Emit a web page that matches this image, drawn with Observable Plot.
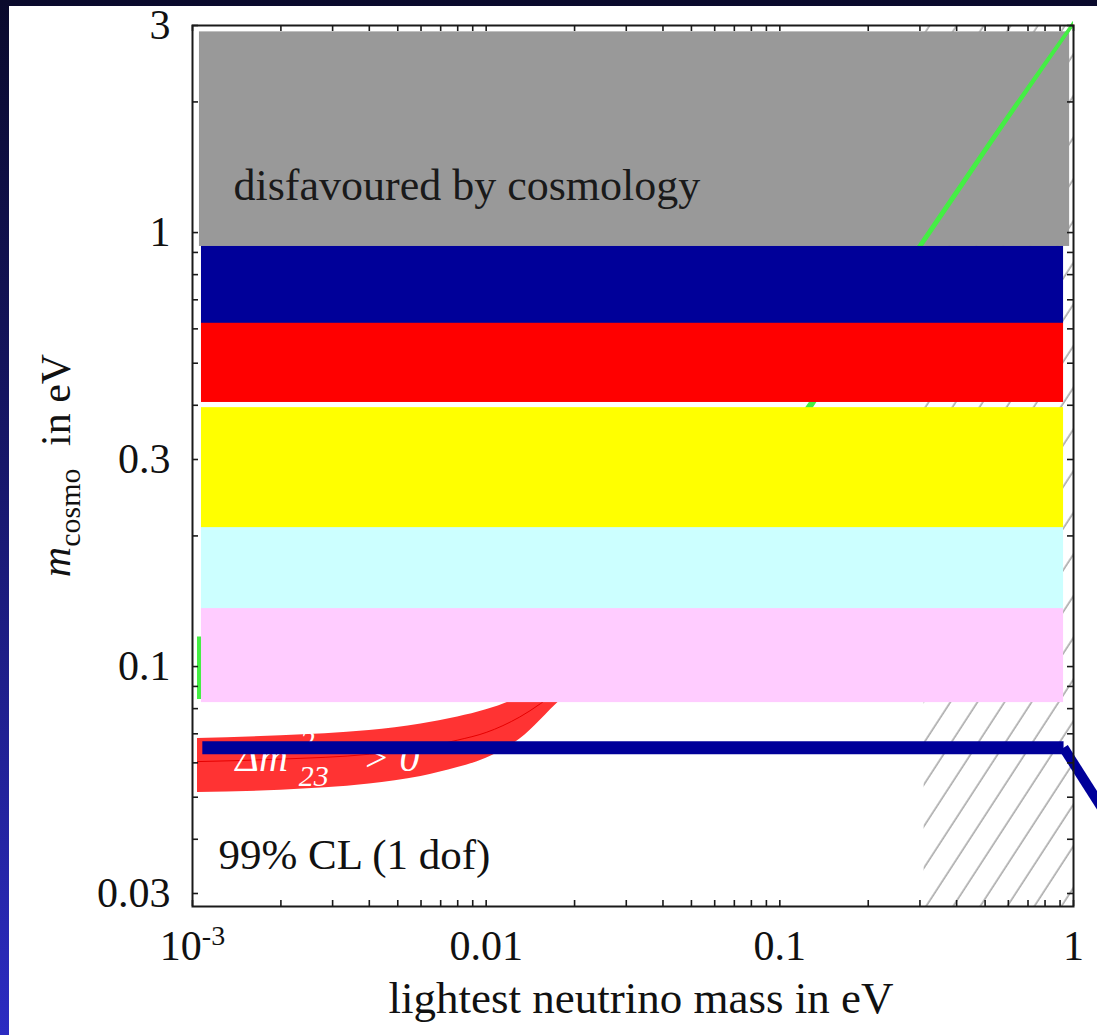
<!DOCTYPE html>
<html>
<head>
<meta charset="utf-8">
<script src="https://cdn.jsdelivr.net/npm/d3@7"></script>
<script src="https://cdn.jsdelivr.net/npm/@observablehq/plot@0.6"></script>
<style>
html, body { margin: 0; padding: 0; }
body {
  width: 1097px; height: 1035px; overflow: hidden; position: relative;
  background: linear-gradient(to bottom, #0a0a2c 0%, #17176a 45%, #2c2cc2 100%);
}
#panel { position: absolute; left: 9px; top: 6px; width: 1088px; height: 1029px; background: #ffffff; overflow: hidden; }
</style>
</head>
<body>
<div id="panel"></div>
<script>
// ---------------- data ----------------
const xDomain = [0.001, 1];
const yDomain = [0.028, 3];

const xMajorTicks = [0.001, 0.01, 0.1, 1];
const xMajorLabels = ["10-3", "0.01", "0.1", "1"];
const xMinorTicks = [0.002, 0.003, 0.004, 0.005, 0.006, 0.007, 0.008, 0.009,
                     0.02, 0.03, 0.04, 0.05, 0.06, 0.07, 0.08, 0.09,
                     0.2, 0.3, 0.4, 0.5, 0.6, 0.7, 0.8, 0.9];
const yMajorTicks = [0.03, 0.1, 0.3, 1, 3];
const yMajorLabels = ["0.03", "0.1", "0.3", "1", "3"];
const yMinorTicks = [0.04, 0.05, 0.06, 0.07, 0.08, 0.09,
                     0.2, 0.4, 0.5, 0.6, 0.7, 0.8, 0.9, 2];

// region disfavoured by cosmology (grey box)
const cosmoX = [0.001056, 0.97];
const cosmoY = [0.929, 2.90];

// hatched region (lightest mass range)
const hatchX = [0.31, 1];
const hatchY = [0.028, 3];

// horizontal coloured bands (top to bottom)
const bandNames = ["band 1", "band 2", "band 3", "band 4", "band 5"];
const bandStart = [0.001073, 0.001073, 0.001073, 0.001073, 0.001073];
const bandEnd   = [0.925, 0.925, 0.925, 0.925, 0.925];
const bandLow   = [0.616, 0.406, 0.207, 0.134, 0.0826];
const bandHigh  = [0.929, 0.618, 0.395, 0.209, 0.136];

// normal hierarchy band (Δm²23 > 0)
const nhMass    = [0.00104, 0.002, 0.004, 0.006, 0.008, 0.01, 0.013, 0.018, 0.03, 0.06, 0.1, 0.128, 0.2, 0.3, 0.6, 1.0];
const nhLow     = [0.0513, 0.0519, 0.0536, 0.0558, 0.0585, 0.0615, 0.068, 0.084, 0.112, 0.186, 0.303, 0.394, 0.613, 0.915, 1.825, 2.99];
const nhHigh    = [0.0683, 0.0693, 0.0712, 0.0737, 0.0765, 0.0795, 0.085, 0.096, 0.125, 0.199, 0.318, 0.406, 0.625, 0.932, 1.855, 3.04];
const nhCentral = [0.0604, 0.0612, 0.0628, 0.065, 0.0677, 0.0705, 0.0765, 0.089, 0.118, 0.193, 0.31, 0.4, 0.619, 0.923, 1.84, 3.01];

// inverted hierarchy band
const ihMass = [0.00104, 0.01, 0.03, 0.06, 0.1, 0.128, 0.2, 0.3, 0.6, 1.0];
const ihLow  = [0.084, 0.086, 0.108, 0.178, 0.297, 0.388, 0.604, 0.903, 1.80, 2.97];
const ihHigh = [0.117, 0.119, 0.138, 0.207, 0.325, 0.412, 0.633, 0.946, 1.88, 3.07];

// thick dark-blue line
const limitMass = [0.00108, 0.925, 1.5];
const limitSum  = [0.065, 0.065, 0.0389];

// texts
const cosmoText = "disfavoured by cosmology";
const cosmoTextPos = [0.001379, 1.187];
const clText = "99% CL (1 dof)";
const clTextPos = [0.001226, 0.0341];
const nhTextParts = ["Δm", "2", "23", "> 0"];
const nhTextX = [0.0014, 0.00232, 0.0023, 0.00379];
const nhTextY = [0.0576, 0.064, 0.0532, 0.0576];
const xLabel = "lightest neutrino mass in eV";

// ---------------- styles ----------------
const bandColors = ["#000099", "#ff0000", "#ffff00", "#ccffff", "#ffccff"];
const greyColor = "#999999";
const nhColor = "#ff3333";
const nhLineColor = "#e60000";
const ihColor = "#44ee44";
const limitColor = "#000099";
const serif = "'Liberation Serif', 'Times New Roman', Times, serif";

const W = 1088, H = 1029;
const mL = 183, mR = 24, mT = 19, mB = 129;
const innerW = W - mL - mR;
const innerH = H - mT - mB;
const tickLen = 6;

const bands = bandNames.map((n, i) => ({name: n, x1: bandStart[i], x2: bandEnd[i], y1: bandLow[i], y2: bandHigh[i]}));
const nh = nhMass.map((m, i) => ({m, lo: nhLow[i], hi: nhHigh[i], c: nhCentral[i]}));
const ih = ihMass.map((m, i) => ({m, lo: ihLow[i], hi: ihHigh[i]}));
const limit = limitMass.map((m, i) => ({m, s: limitSum[i]}));
const allXTicks = xMajorTicks.concat(xMinorTicks);
const allYTicks = yMajorTicks.concat(yMinorTicks);
const nhTexts = nhTextParts.map((t, i) => ({t, x: nhTextX[i], y: nhTextY[i]}));

const plot = Plot.plot({
  width: W, height: H,
  marginLeft: mL, marginRight: mR, marginTop: mT, marginBottom: mB,
  style: {fontFamily: serif, fontSize: "42px", color: "#111", background: "transparent"},
  x: {type: "log", domain: xDomain, axis: null, label: null},
  y: {type: "log", domain: yDomain, axis: null, label: null},
  color: {type: "ordinal", domain: bandNames, range: bandColors},
  marks: [
    Plot.rect([{x1: hatchX[0], x2: hatchX[1], y1: hatchY[0], y2: hatchY[1]}],
      {x1: "x1", x2: "x2", y1: "y1", y2: "y2", fill: "url(#hatch)"}),
    Plot.rect([{x1: cosmoX[0], x2: cosmoX[1], y1: cosmoY[0], y2: cosmoY[1]}],
      {x1: "x1", x2: "x2", y1: "y1", y2: "y2", fill: greyColor}),
    Plot.areaY(nh, {x: "m", y1: "lo", y2: "hi", fill: nhColor, curve: "monotone-x"}),
    Plot.line(nh, {x: "m", y: "c", stroke: nhLineColor, strokeWidth: 1, curve: "monotone-x"}),
    Plot.areaY(ih, {x: "m", y1: "lo", y2: "hi", fill: ihColor, curve: "monotone-x"}),
    Plot.rect(bands, {x1: "x1", x2: "x2", y1: "y1", y2: "y2", fill: "name"}),
    Plot.text([nhTexts[0]], {x: "x", y: "y", text: "t", fill: "white", fontSize: 40, fontStyle: "italic", textAnchor: "start", lineAnchor: "bottom"}),
    Plot.text([nhTexts[1]], {x: "x", y: "y", text: "t", fill: "white", fontSize: 30, fontStyle: "italic", textAnchor: "start", lineAnchor: "bottom"}),
    Plot.text([nhTexts[2]], {x: "x", y: "y", text: "t", fill: "white", fontSize: 30, fontStyle: "italic", textAnchor: "start", lineAnchor: "bottom"}),
    Plot.text([nhTexts[3]], {x: "x", y: "y", text: "t", fill: "white", fontSize: 40, fontStyle: "italic", textAnchor: "start", lineAnchor: "bottom"}),
    Plot.line(limit.slice(0, 2), {x: "m", y: "s", stroke: limitColor, strokeWidth: 13, strokeLinecap: "butt"}),
    Plot.line(limit.slice(1, 3), {x: "m", y: "s", stroke: limitColor, strokeWidth: 10, strokeLinecap: "butt"}),
    Plot.frame({stroke: "#1a1a1a", strokeWidth: 2}),
    Plot.ruleX(allXTicks, {x: d => d, insetTop: innerH - tickLen, stroke: "#1a1a1a", strokeWidth: 1.6}),
    Plot.ruleX(allXTicks, {x: d => d, insetBottom: innerH - tickLen, stroke: "#1a1a1a", strokeWidth: 1.6}),
    Plot.ruleY(allYTicks, {y: d => d, insetRight: innerW - tickLen, stroke: "#1a1a1a", strokeWidth: 1.6}),
    Plot.ruleY(allYTicks, {y: d => d, insetLeft: innerW - tickLen, stroke: "#1a1a1a", strokeWidth: 1.6}),
    Plot.axisX(xMajorTicks, {anchor: "bottom", tickSize: 0, tickPadding: 24, label: null,
      tickFormat: d => xMajorLabels[xMajorTicks.indexOf(d)], fontSize: 42, fill: "#111"}),
    Plot.axisY(yMajorTicks, {anchor: "left", tickSize: 0, tickPadding: 22, label: null,
      tickFormat: d => yMajorLabels[yMajorTicks.indexOf(d)], fontSize: 42, fill: "#111"}),
    Plot.text([cosmoText], {x: cosmoTextPos[0], y: cosmoTextPos[1], text: d => d, fontSize: 44, fill: "#1a1a1a", textAnchor: "start", lineAnchor: "bottom"}),
    Plot.text([clText], {x: clTextPos[0], y: clTextPos[1], text: d => d, fontSize: 43, fill: "#111", textAnchor: "start", lineAnchor: "bottom"}),
    Plot.text([xLabel], {frameAnchor: "bottom", dx: 8, dy: 106, text: d => d, fontSize: 45, fill: "#111", lineAnchor: "bottom"})
  ]
});

document.getElementById("panel").appendChild(plot);

const svg = d3.select(plot);
svg.insert("defs", ":first-child").html(
  '<pattern id="hatch" patternUnits="userSpaceOnUse" width="22.7" height="22.7" patternTransform="rotate(33)">' +
  '<line x1="11" y1="-2" x2="11" y2="25" stroke="#a8a8a8" stroke-width="1.6"/></pattern>'
);

// superscript exponent on the 10^-3 tick label
svg.selectAll("text").filter(function () { return this.textContent === "10-3"; }).each(function () {
  const t = d3.select(this);
  t.text(null);
  t.append("tspan").text("10");
  t.append("tspan").attr("font-size", 28).attr("dy", "-0.55em").text("-3");
});

// y axis label with subscript
const ylab = svg.append("text")
  .attr("transform", `translate(61, ${mT + innerH / 2}) rotate(-90)`)
  .attr("text-anchor", "middle")
  .attr("font-family", serif)
  .attr("font-size", 42)
  .attr("fill", "#111");
ylab.append("tspan").attr("font-style", "italic").text("m");
ylab.append("tspan").attr("font-size", 30).attr("dy", 10).text("cosmo");
ylab.append("tspan").attr("dy", -10).attr("dx", 12).text(" in eV");
</script>
</body>
</html>
